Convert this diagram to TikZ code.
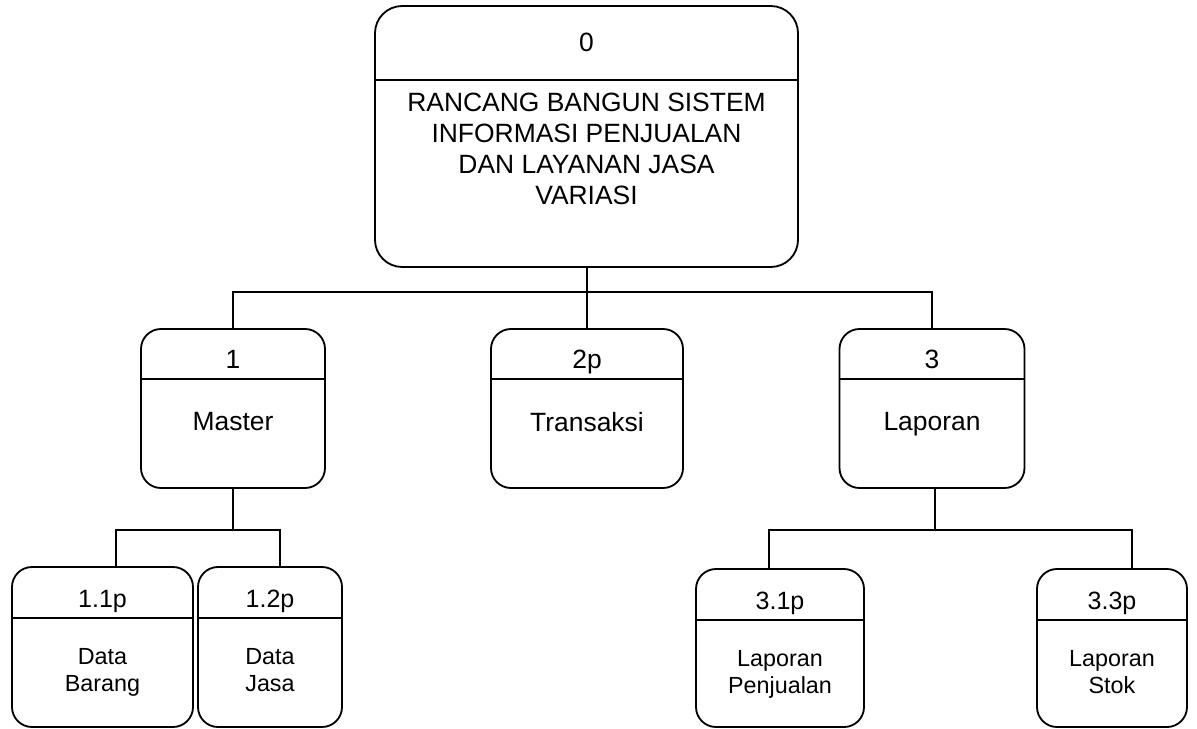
\documentclass[tikz,border=0pt]{standalone}
\usepackage{fontspec}
\setmainfont{Liberation Sans}
\usetikzlibrary{calc,positioning}

\newcommand{\pxu}{0.025cm}

\tikzset{
  procbox/.style 2 args={draw, line width=1.3pt, rounded corners=0.5cm,
    minimum width=#1*\pxu, minimum height=#2*\pxu, inner sep=0pt},
  divline/.style={line width=1.3pt},
  link/.style={line width=1.3pt},
  bigtxt/.style={anchor=north, inner sep=0pt, align=center,
    font=\fontsize{18.8}{22}\selectfont},
  smallid/.style={anchor=north, inner sep=0pt,
    font=\fontsize{17.8}{21}\selectfont},
  smalltxt/.style={anchor=north, inner sep=0pt, align=center,
    font=\fontsize{16.6}{19.2}\selectfont}
}

\begin{document}
\begin{tikzpicture}[x=\pxu,y=-\pxu]
  \useasboundingbox (0,0) rectangle (1197,729);

  % level 0
  \node[procbox={423}{261}, rounded corners=0.68cm] (p0) at (586.5,136.5) {};
  \draw[divline] ($(p0.north west)+(0,75)$) -- ($(p0.north east)+(0,75)$);
  \node[bigtxt] (p0-id) at ($(p0.north)+(0,27.5)$) {0};
  \node[bigtxt] (p0-txt) at ($(p0.north)+(0,87.5)$)
    {RANCANG BANGUN SISTEM\\INFORMASI PENJUALAN\\DAN LAYANAN JASA\\VARIASI};

  % level 1
  \foreach \n/\cx/\w/\idx/\txt in {p1/233/184/1/Master,
      p2/587/192/2p/Transaksi, p3/932/185/3/Laporan} {
    \node[procbox={\w}{159}] (\n) at (\cx,408.5) {};
    \draw[divline] ($(\n.north west)+(0,51)$) -- ($(\n.north east)+(0,51)$);
    \node[bigtxt] (\n-id) at ($(\n.north)+(0,21.5)$) {\idx};
    \node[bigtxt] (\n-txt) at ($(\n.north)+(0,83.5)$) {\txt};
  }

  % level 2
  \foreach \n/\cx/\cy/\w/\h/\idx/\txt in {p11/102.5/647/181/160/1.1p/{Data\\Barang},
      p12/270/647/144/160/1.2p/{Data\\Jasa},
      p31/780/648/168/158/3.1p/{Laporan\\Penjualan},
      p33/1112/648/150/158/3.3p/{Laporan\\Stok}} {
    \node[procbox={\w}{\h}] (\n) at (\cx,\cy) {};
    \draw[divline] ($(\n.north west)+(0,52)$) -- ($(\n.north east)+(0,52)$);
    \node[smallid] (\n-id) at ($(\n.north)+(0,24)$) {\idx};
    \node[smalltxt] (\n-txt) at ($(\n.north)+(0,82)$) {\txt};
  }

  % connectors
  \coordinate (bus0) at (587,292);
  \draw[link] (p0.south -| bus0) -- (bus0);
  \draw[link] (p1.north) |- (bus0) -| (p3.north);
  \draw[link] (p2.north) -- (p2.north |- bus0);

  \coordinate (bus1) at (232,530);
  \draw[link] (p1.south) -- (p1.south |- bus1);
  \draw[link] ($(p11.north)+(13.5,0)$) |- (bus1) -| ($(p12.north)+(10,0)$);

  \coordinate (bus3) at (935,530);
  \draw[link] (p3.south -| bus3) -- (bus3);
  \draw[link] ($(p31.north)+(-11,0)$) |- (bus3) -| ($(p33.north)+(20,0)$);
\end{tikzpicture}
\end{document}
